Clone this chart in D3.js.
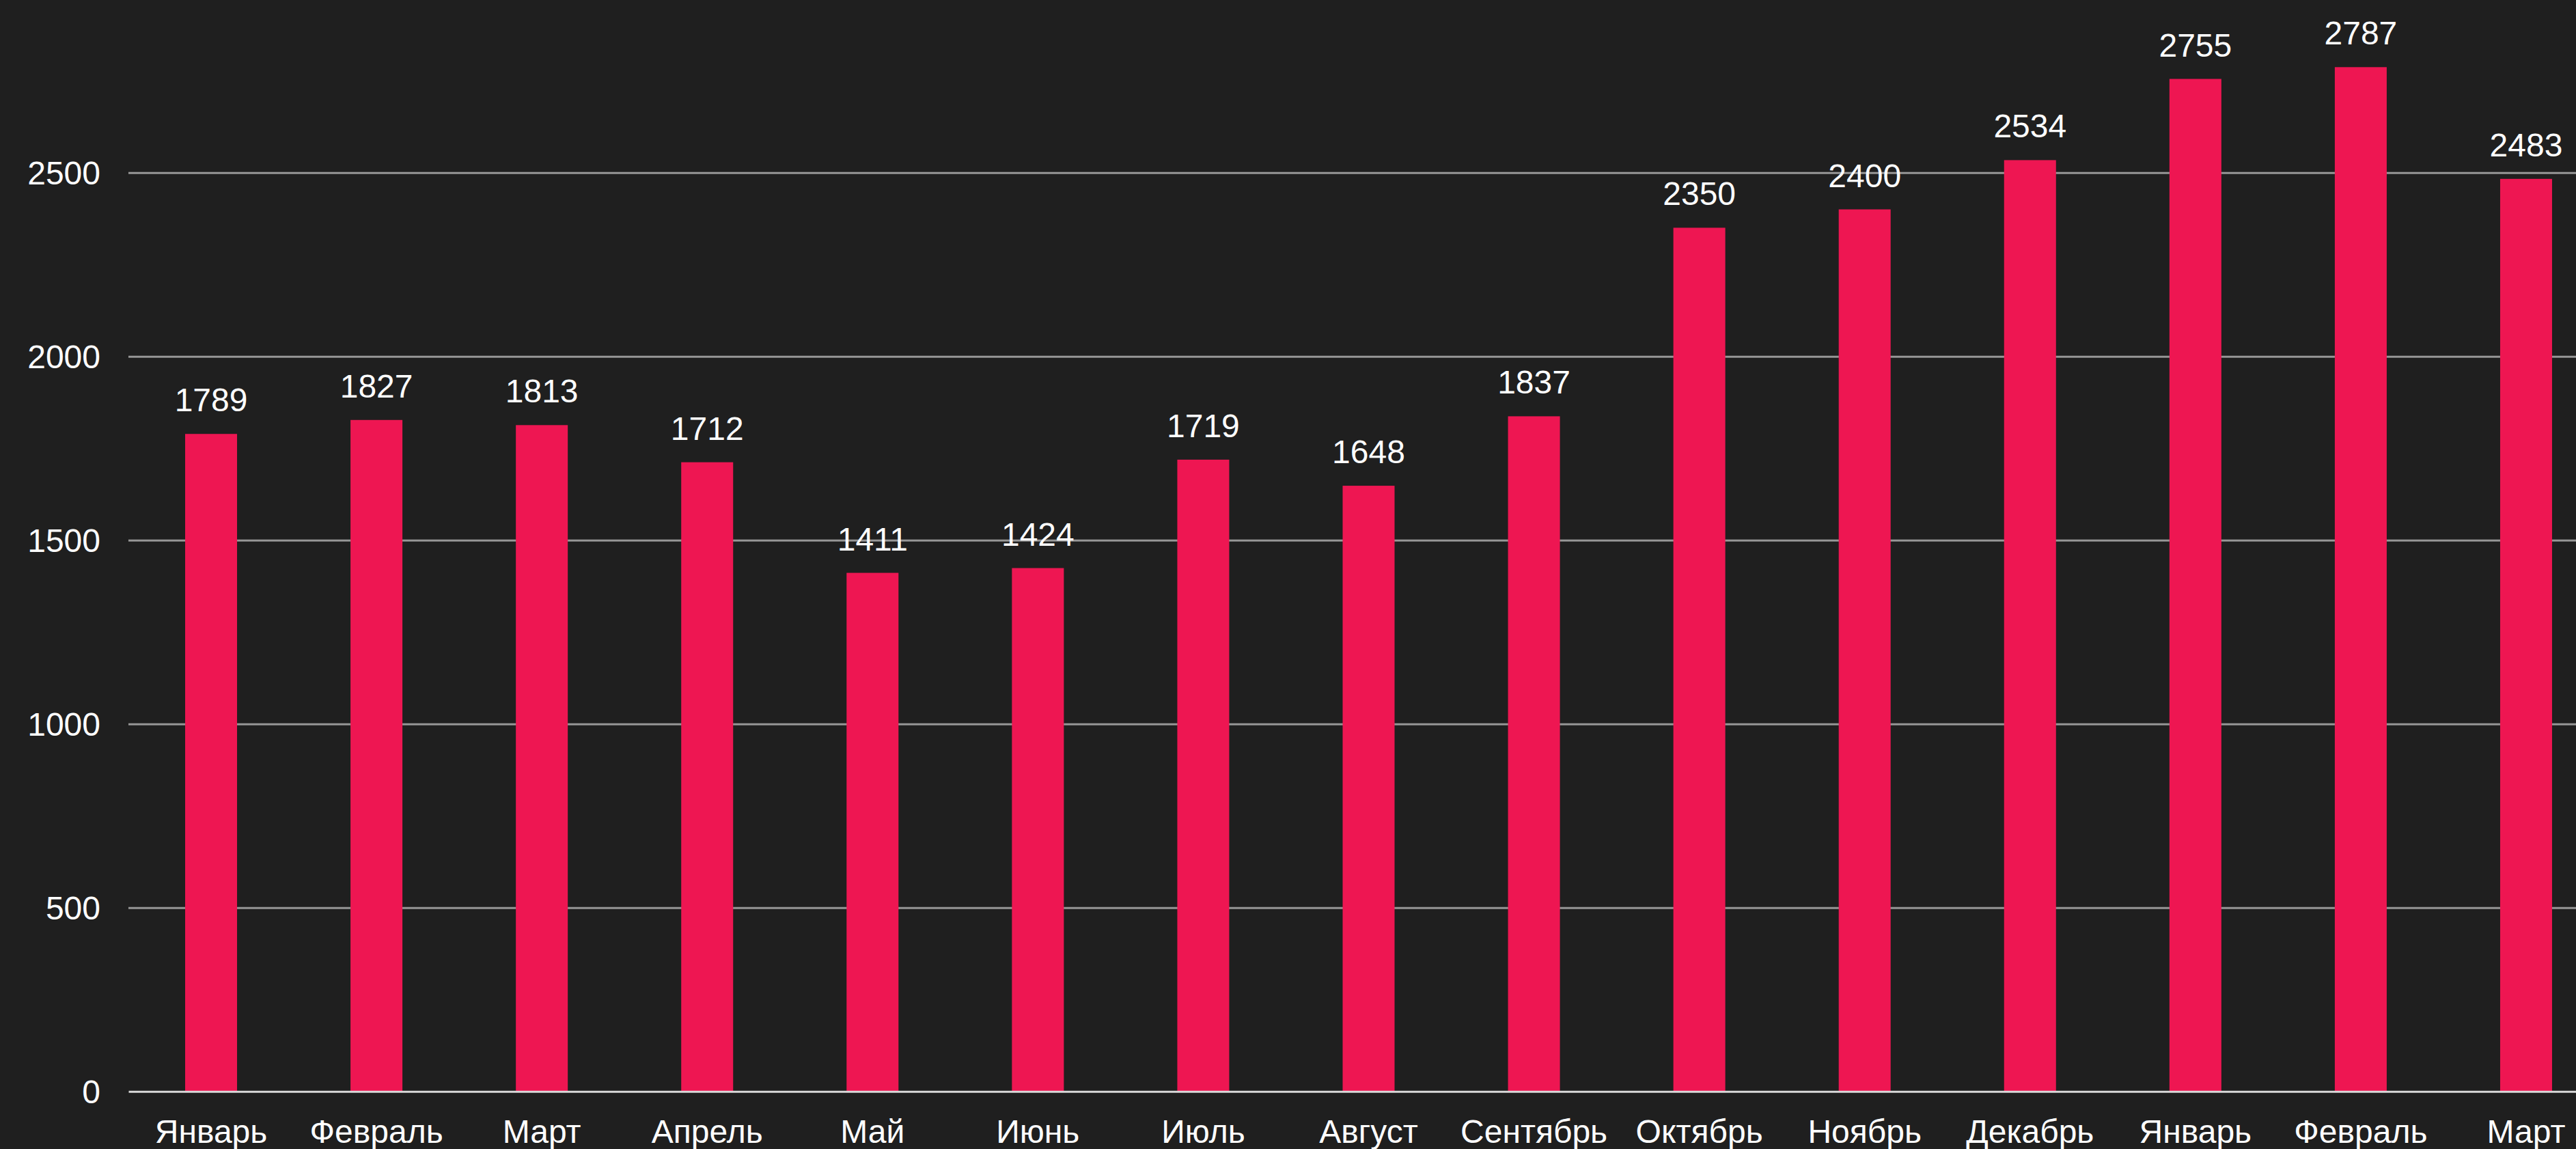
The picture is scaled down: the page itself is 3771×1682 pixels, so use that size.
<!DOCTYPE html>
<html>
<head>
<meta charset="utf-8">
<script src="https://cdn.jsdelivr.net/npm/d3@7"></script>
<style>
  html, body { margin: 0; padding: 0; background: #1f1f1f; overflow: hidden; }
  svg { display: block; }
  text { font-family: "Liberation Sans", Arial, sans-serif; fill: #ffffff; }
</style>
</head>
<body>
<svg id="chart"></svg>
<script>
// months (two seasons, Jan..Mar of the next year)
const months = ['Январь', 'Февраль', 'Март', 'Апрель', 'Май', 'Июнь', 'Июль', 'Август',
  'Сентябрь', 'Октябрь', 'Ноябрь', 'Декабрь', 'Январь', 'Февраль', 'Март']
const values = [1789, 1827, 1813, 1712, 1411, 1424, 1719, 1648, 1837, 2350, 2400, 2534, 2755, 2787, 2483]
const yTicks = [0, 500, 1000, 1500, 2000, 2500]

const W = 3771
const H = 1682
const plotLeft = 188
const plotRight = 3819 // plot runs a bit past the window edge
const plotBottom = 1597.7
const y2500 = 252.7 // y of the 2500 line

const data = months.map((m, i) => ({ key: i, month: m, value: values[i] }))

const svg = d3.select('#chart').attr('width', W).attr('height', H)

svg.append('rect').attr('width', W).attr('height', H).attr('fill', '#1f1f1f')

const x = d3.scaleBand()
  .domain(data.map(d => d.key))
  .range([plotLeft, plotRight])
  .paddingInner(0.686)
  .paddingOuter(0.343)

const y = d3.scaleLinear()
  .domain([0, 2500])
  .range([plotBottom, y2500])

// gridlines
const grid = svg.append('g')
  .attr('transform', `translate(${plotLeft},0)`)
  .call(d3.axisLeft(y).tickValues(yTicks.slice(1)).tickSize(-(plotRight - plotLeft)).tickFormat(''))
grid.select('.domain').remove()
grid.selectAll('line').attr('stroke', '#969696').attr('stroke-width', 3)

// y axis labels
const yAxis = svg.append('g')
  .attr('transform', `translate(${plotLeft},0)`)
  .call(d3.axisLeft(y).tickValues(yTicks).tickSize(0).tickPadding(41).tickFormat(d3.format('d')))
yAxis.select('.domain').remove()
yAxis.selectAll('text')
  .attr('font-size', 48)
  .attr('dy', '0.35em')
  .style('fill', '#ffffff')
  .style('font-family', '"Liberation Sans", Arial, sans-serif')

// bars
svg.append('g')
  .selectAll('rect')
  .data(data)
  .enter()
  .append('rect')
  .attr('x', d => x(d.key))
  .attr('y', d => y(d.value))
  .attr('width', x.bandwidth())
  .attr('height', d => plotBottom - y(d.value))
  .attr('fill', '#ee1652')

// value labels
svg.append('g')
  .selectAll('text')
  .data(data)
  .enter()
  .append('text')
  .attr('x', d => x(d.key) + x.bandwidth() / 2)
  .attr('y', d => y(d.value) - 33)
  .attr('text-anchor', 'middle')
  .attr('font-size', 48)
  .text(d => d.value)

// x axis
const xAxis = svg.append('g')
  .attr('transform', `translate(0,${plotBottom})`)
  .call(d3.axisBottom(x).tickSize(0).tickPadding(41).tickFormat(k => months[k]))
xAxis.select('.domain').attr('stroke', '#d9d9d9').attr('stroke-width', 3)
xAxis.selectAll('text')
  .attr('font-size', 48)
  .style('fill', '#ffffff')
  .style('font-family', '"Liberation Sans", Arial, sans-serif')
</script>
</body>
</html>
